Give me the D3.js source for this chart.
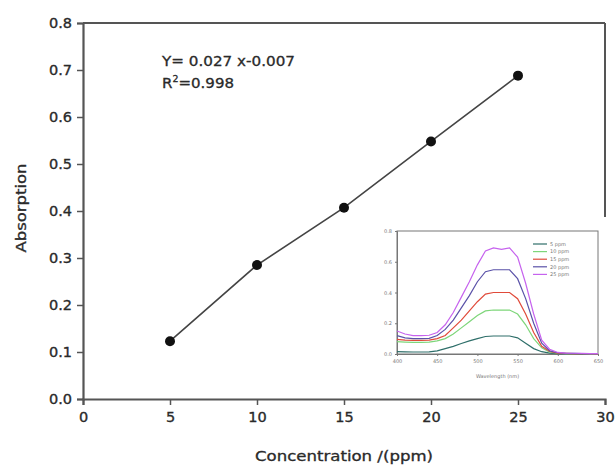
<!DOCTYPE html>
<html><head><meta charset="utf-8">
<script src="https://cdn.jsdelivr.net/npm/d3@7"></script>
<style>body{margin:0;background:#fff}svg{display:block}text{font-family:"DejaVu Sans",sans-serif}</style>
</head><body>
<svg id="c" width="616" height="468"></svg>
<script>
// Main calibration data
const concentration = [5, 10, 15, 20, 25];
const absorption = [0.123, 0.285, 0.407, 0.548, 0.688];
const xTicks = [0, 5, 10, 15, 20, 25, 30];
const yTicks = [0.0, 0.1, 0.2, 0.3, 0.4, 0.5, 0.6, 0.7, 0.8];
const equationText = "Y= 0.027 x-0.007";
const r2Value = "=0.998";

// Inset spectra data
const wavelength = [400,410,420,430,440,450,460,470,480,490,500,510,520,530,540,550,560,570,580,590,600,610,620,630,640,650];
const spec5  = [0.015,0.014,0.013,0.013,0.014,0.02,0.035,0.05,0.068,0.085,0.10,0.114,0.117,0.117,0.117,0.105,0.07,0.035,0.015,0.006,0.003,0.002,0.002,0.001,0.001,0.001];
const spec10 = [0.08,0.077,0.075,0.075,0.077,0.085,0.10,0.13,0.17,0.21,0.25,0.28,0.286,0.286,0.286,0.26,0.19,0.10,0.04,0.012,0.005,0.003,0.002,0.002,0.001,0.001];
const spec15 = [0.095,0.09,0.088,0.088,0.09,0.10,0.12,0.17,0.22,0.28,0.34,0.39,0.40,0.40,0.40,0.36,0.26,0.14,0.05,0.016,0.006,0.004,0.003,0.002,0.002,0.001];
const spec20 = [0.12,0.105,0.10,0.10,0.102,0.12,0.16,0.22,0.30,0.38,0.47,0.535,0.548,0.548,0.548,0.49,0.36,0.20,0.07,0.02,0.008,0.005,0.004,0.003,0.002,0.002];
const spec25 = [0.15,0.13,0.12,0.12,0.122,0.14,0.19,0.27,0.37,0.47,0.58,0.67,0.69,0.68,0.69,0.63,0.46,0.26,0.09,0.03,0.01,0.006,0.005,0.004,0.003,0.003];
const specLabels = ["5 ppm","10 ppm","15 ppm","20 ppm","25 ppm"];
const specColors = ["#2f6f6a","#7ed67a","#e04a3a","#5a52a8","#c663ee"];
const insetXTicks = [400,450,500,550,600,650];
const insetYTicks = [0.0,0.2,0.4,0.6,0.8];

const svg = d3.select("#c");
const axisCol = "#555";
const txtCol = "#2a2a2a";
const FONT = "DejaVu Sans, sans-serif";

const x = d3.scaleLinear().domain([0,30]).range([83,605]);
const y = d3.scaleLinear().domain([0,0.8]).range([399,23]);

// frame: top and right (right stops where inset covers)
svg.append("line").attr("x1",x(0)).attr("x2",x(30)).attr("y1",y(0.8)).attr("y2",y(0.8)).attr("stroke",axisCol).attr("stroke-width",2);
svg.append("line").attr("x1",x(30)).attr("x2",x(30)).attr("y1",y(0.8)).attr("y2",y(0.8)+194).attr("stroke",axisCol).attr("stroke-width",2);

// axes
const gx = svg.append("g").attr("transform",`translate(0,${y(0)})`)
  .call(d3.axisBottom(x).tickValues(xTicks).tickSize(6).tickPadding(7).tickFormat(d3.format("d")));
const gy = svg.append("g").attr("transform",`translate(${x(0)},0)`)
  .call(d3.axisLeft(y).tickValues(yTicks).tickSize(6).tickPadding(5).tickFormat(d3.format(".1f")));
[gx,gy].forEach(g=>{
  g.select(".domain").attr("stroke",axisCol).attr("stroke-width",2.2);
  g.selectAll(".tick line").attr("stroke",axisCol).attr("stroke-width",1.5);
  g.selectAll(".tick text").attr("fill",txtCol).attr("stroke",txtCol).attr("stroke-width",0.35)
    .attr("font-family",FONT).style("font-size","14.5px");
});

// line + points
svg.append("path").datum(concentration.map((c,i)=>[c,absorption[i]]))
  .attr("d",d3.line().x(d=>x(d[0])).y(d=>y(d[1])))
  .attr("fill","none").attr("stroke","#444").attr("stroke-width",1.6);
svg.selectAll("circle.pt").data(concentration).join("circle").attr("class","pt")
  .attr("cx",(d)=>x(d)).attr("cy",(d,i)=>y(absorption[i])).attr("r",5).attr("fill","#111");

// shared text style
function styl(t){ return t.attr("fill",txtCol).attr("stroke",txtCol).attr("stroke-width",0.3); }

// equation
styl(svg.append("text").attr("x",162).attr("y",66).attr("font-size",13.5)
  .attr("textLength",133).attr("lengthAdjust","spacingAndGlyphs")).text(equationText);
const r2 = styl(svg.append("text").attr("x",162).attr("y",88).attr("font-size",13.5)
  .attr("textLength",72).attr("lengthAdjust","spacingAndGlyphs"));
r2.append("tspan").text("R");
r2.append("tspan").attr("dy",-6).attr("font-size",8.5).text("2");
r2.append("tspan").attr("dy",6).text(r2Value);

// axis titles
styl(svg.append("text").attr("x",344).attr("y",461).attr("text-anchor","middle").attr("font-size",13.5)
  .attr("textLength",178).attr("lengthAdjust","spacingAndGlyphs")).text("Concentration /(ppm)");
styl(svg.append("text").attr("transform","translate(26,208) rotate(-90)").attr("text-anchor","middle").attr("font-size",13.5)
  .attr("textLength",89).attr("lengthAdjust","spacingAndGlyphs")).text("Absorption");

// ---- inset ----
svg.append("rect").attr("x",376).attr("y",218).attr("width",236).attr("height",172).attr("fill","#fff");
const ix = d3.scaleLinear().domain([400,650]).range([397,598]);
const iy = d3.scaleLinear().domain([0,0.8]).range([354,231]);
svg.append("rect").attr("x",ix(400)).attr("y",iy(0.8)).attr("width",ix(650)-ix(400)).attr("height",iy(0)-iy(0.8))
  .attr("fill","none").attr("stroke","#777").attr("stroke-width",1);
const igx = svg.append("g").attr("transform",`translate(0,${iy(0)})`)
  .call(d3.axisBottom(ix).tickValues(insetXTicks).tickSize(2).tickPadding(3).tickFormat(d3.format("d")));
const igy = svg.append("g").attr("transform",`translate(${ix(400)},0)`)
  .call(d3.axisLeft(iy).tickValues(insetYTicks).tickSize(2).tickPadding(3).tickFormat(d3.format(".1f")));
[igx,igy].forEach(g=>{
  g.select(".domain").attr("stroke","#777");
  g.selectAll(".tick line").attr("stroke","#777");
  g.selectAll(".tick text").attr("fill","#777").attr("font-family",FONT).style("font-size","5px");
});
const specs = [spec5,spec10,spec15,spec20,spec25];
const iline = d3.line().x((d,i)=>ix(wavelength[i])).y(d=>iy(d));
specs.forEach((s,k)=>{
  svg.append("path").datum(s).attr("d",iline).attr("fill","none").attr("stroke",specColors[k]).attr("stroke-width",1.2);
});
// legend
specLabels.forEach((lab,k)=>{
  const ly = 244 + k*7.6;
  svg.append("line").attr("x1",533).attr("x2",547).attr("y1",ly).attr("y2",ly).attr("stroke",specColors[k]).attr("stroke-width",1.2);
  svg.append("text").attr("x",550).attr("y",ly+1.8).attr("font-size",5).attr("fill","#777").text(lab);
});
svg.append("text").attr("x",(ix(400)+ix(650))/2).attr("y",378).attr("text-anchor","middle").attr("font-size",5).attr("fill","#777").text("Wavelength (nm)");
</script>
</body></html>
